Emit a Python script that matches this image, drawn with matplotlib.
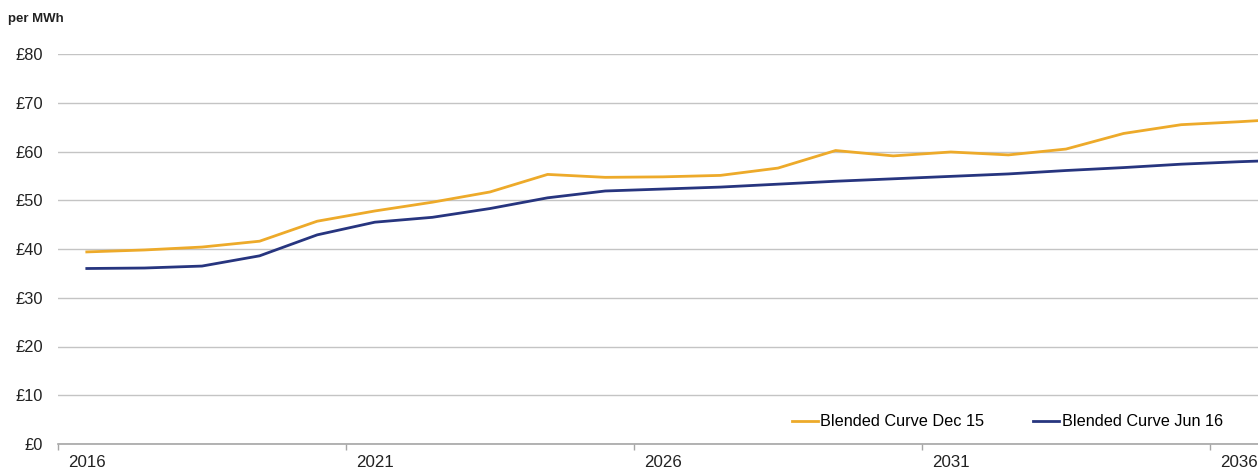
import numpy as np
import matplotlib.pyplot as plt

plt.rcParams["font.family"] = ["Liberation Sans", "DejaVu Sans"]

years = list(range(2016, 2038))
dec15 = [39.4, 39.8, 40.4, 41.6, 45.7, 47.8, 49.6, 51.7, 55.3, 54.7, 54.8,
         55.1, 56.6, 60.2, 59.1, 59.9, 59.3, 60.5, 63.7, 65.5, 66.1, 66.8]
jun16 = [36.0, 36.1, 36.5, 38.6, 42.9, 45.5, 46.5, 48.3, 50.5, 51.9, 52.3,
         52.7, 53.3, 53.9, 54.4, 54.9, 55.4, 56.1, 56.7, 57.4, 57.9, 58.3]
label_years = [2016, 2021, 2026, 2031, 2036]
y_ticks = [0, 10, 20, 30, 40, 50, 60, 70, 80]

yellow = "#EDAA2A"
navy = "#27357F"

fig = plt.figure(figsize=(12.58, 4.71), dpi=100)
ax = fig.add_axes([58 / 1258, 1 - 444 / 471, 1 - 58 / 1258, 390 / 471])

ax.plot(years, dec15, color=yellow, lw=2, label="Blended Curve Dec 15", zorder=3)
ax.plot(years, jun16, color=navy, lw=2, label="Blended Curve Jun 16", zorder=3)

ax.set_xlim(2015.5, 2015.5 + 1200 / 57.6)
ax.set_ylim(0, 80)

# y axis: gridlines only, pound labels
ax.set_yticks(y_ticks)
ax.set_yticklabels([f"£{v}" for v in y_ticks], fontsize=11.8, color="#222222")
ax.tick_params(axis="y", length=0, pad=11)
ax.grid(axis="y", color="#c4c4c4", lw=1)

# x axis: tick marks at category boundaries, labels at the years
ax.set_xticks([y - 0.5 for y in label_years])
ax.set_xticklabels([])
ax.tick_params(axis="x", which="major", length=4, color="#a6a6a6", width=1)
ax.set_xticks(label_years, minor=True)
ax.set_xticklabels([str(y) for y in label_years], minor=True,
                   fontsize=12.2, color="#222222")
ax.tick_params(axis="x", which="minor", length=0, pad=8)

for s in ["top", "right", "left"]:
    ax.spines[s].set_visible(False)
ax.spines["bottom"].set_color("#a6a6a6")
ax.spines["bottom"].set_linewidth(1.2)

fig.text(8 / 1258, 1 - 19 / 471, "per MWh", fontsize=9.5, fontweight="bold",
         va="center", ha="left", color="#222222")

fig.legend(loc="center left", bbox_to_anchor=(792 / 1258, 1 - 422 / 471),
           ncol=2, frameon=False, fontsize=11.7, handlelength=1.6,
           handletextpad=0.15, columnspacing=3.0, borderpad=0, borderaxespad=0)

fig.savefig("out.png", dpi=100)
